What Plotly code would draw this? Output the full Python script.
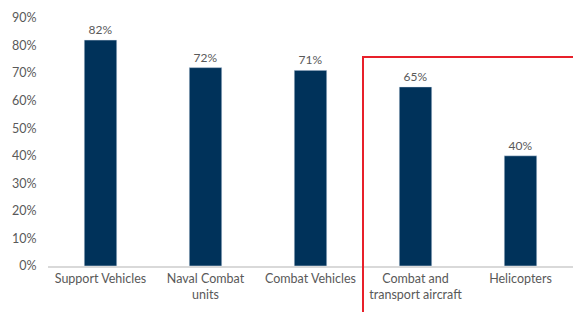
import plotly.graph_objects as go

categories = ["Support Vehicles", "Naval Combat<br>units", "Combat Vehicles",
              "Combat and<br>transport aircraft", "Helicopters"]
values = [0.82, 0.72, 0.71, 0.65, 0.40]
labels = ["82%", "72%", "71%", "65%", "40%"]
tick_vals = [i / 10 for i in range(10)]
tick_text = [f"{i*10}%" for i in range(10)]

FONT = "Lato, Open Sans, sans-serif"
GRAY = "#595959"

fig = go.Figure()
fig.add_trace(go.Bar(
    x=categories, y=values, text=labels, textposition="outside",
    textfont=dict(family=FONT, size=12, color=GRAY),
    marker=dict(color="#00325A"), width=0.31, cliponaxis=False,
))
fig.update_layout(
    width=573, height=312,
    margin=dict(l=48, r=0, t=18, b=46, autoexpand=False),
    paper_bgcolor="white", plot_bgcolor="white",
    font=dict(family=FONT, size=12.5, color=GRAY),
    showlegend=False,
    xaxis=dict(range=[-0.5, 4.5], showline=True, linecolor="#D9D9D9",
               linewidth=1.5, ticks="", automargin=False,
               tickfont=dict(size=12.5, color=GRAY)),
    yaxis=dict(range=[0, 0.9], tickvals=tick_vals, ticktext=tick_text,
               showgrid=False, zeroline=False, ticks="outside", ticklen=8,
               automargin=False,
               tickcolor="white", tickfont=dict(size=12.5, color=GRAY)),
    shapes=[dict(type="rect", xref="x", yref="paper", x0=2.5, x1=4.6,
                 y0=-0.3, y1=0.843, line=dict(color="#E8202A", width=2),
                 fillcolor="rgba(0,0,0,0)", layer="above")],
)
fig.write_html(
    "out.html",
    config={"displayModeBar": False},
    post_script="document.body.style.margin='0';document.body.style.overflow='hidden';",
)
